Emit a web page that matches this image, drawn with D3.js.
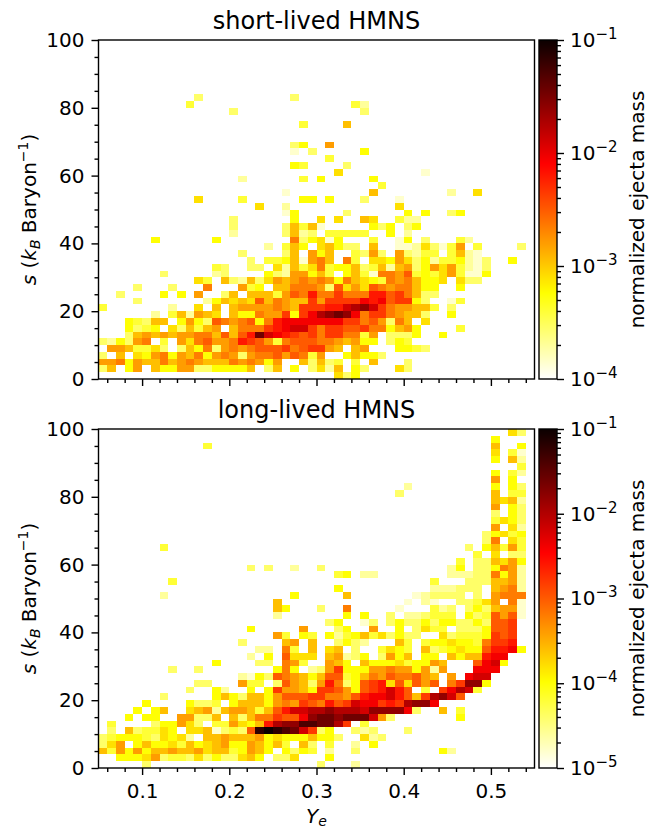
<!DOCTYPE html>
<html>
<head>
<meta charset="utf-8">
<script src="https://cdn.jsdelivr.net/npm/d3@7"></script>
<style>
  body { margin: 0; background: #fff; }
  text { font-family: "DejaVu Sans", sans-serif; fill: #000; }
</style>
</head>
<body>
<svg id="chart" width="662" height="827"></svg>
<script>
// Ye bins 0.05..0.55 by 0.01, s bins 0..100 by 2. One string per s bin, lowest s first.
// Each character is a colour level in base 36: . = empty, 1..k = 1/20..20/20 of the log colour range.
const shortLivedRows = [
  "..... ..... ..... ..... ..... ..635",
  "37.58 .7558 83355 557.3 7.5.3 627.5 3...6 3",
  "88958 77978 98777 98985 8..73 734.4 .7... 3",
  "3.7.6 58958 79589 83899 a8a94 8..57 553",
  ".8874 463.3 75938 989aa ab9ab b87.7 8...5 543",
  "32538 9.4.8 69a88 9cba8 49aaa 99878 55.35 4",
  "...37 87878 8997a 7ache dcbab 9bb99 48.33 35..5",
  "...53 45.63 7478. 7999b cdeeb 9bbaa b9957 85... .4",
  "...54 377.5 853a9 89a59 cdddd dddbb 9a839 7.6",
  "..... .2.47 2876. 75598 8b5bd fghgd 9bb98 773.. 5",
  "4.... ...2. .6.7. 78888 987bb bccef geb98 8774. 3",
  "....3 ..... ..257 676a7 9877b 8bbbb dcdab b53.. 14",
  "..3.. ..5.5 .8..3 7.777 48a9c 99b99 9ccab 9733",
  "....3 ...3. ..9.. .845. 77999 83a68 6a989 9755. .5",
  "..... ..... .64.7 32736 87898 98597 65498 97556 .633",
  "..... ..3.. ...23 ....5 32885 74.57 41998 a4546 84115",
  "..... ..... ...43 ..33. 62746 94557 34727 83586 84213",
  "..... ..... ..... ..3.4 45718 97.94 .6658 63524 45213 ..5",
  "..... ..... ..... .3... .37.8 57..4 383.8 3244. 4721",
  "..... ..... ..... ....2 .475. 67533 .7..1 12631 48.4. ...3",
  "..... .5... ...5. ..... ..935 615.. .4..1 5.3.. .42",
  "..... ..... ..... 2.... .3723 .4444 4..5. 2",
  "..... ..... ..... 3.... .3747 1.... .535. 35",
  "..... ..... ..... 3.... ..5.. 6.6.. 76..4 22",
  "..... ..... ..... ..... .15.. ...3. ..... 5.5.. 35",
  "..... ..... ..... ...6. .2... ..... ....6",
  "..... ..... .6... .4... ...55 .5... 3...1",
  "..... ..... ..... ..... .1... ..... .7... ..... 2..6",
  "..... ..... ..... ..... ..... ..... ..4",
  "..... ..... ..... .2... ...4. 5.... .5",
  "..... ..... ..... ..... ..... ..6.. ..... ..1",
  "..... ..... ..... ..... ..54. ...3",
  "..... ..... ..... ..... ..... .4",
  "..... ..... ..... ..... ..1.3 ..... 5",
  "..... ..... ..... ..... ..35. .8",
  "",
  "",
  "..... ..... ..... ..... ...4. ...7",
  "",
  "..... ..... ..... 3.... ..... ..... 3",
  "..... ..... 4.... ..... ..... ....4 2",
  "..... ..... .3... ..... ..3"
];

const longLivedRows = [
  "..... 3.... ..... ..... ..... 3...2",
  "..555 68344 36353 3675. 336.. .5",
  "74858 57787 78677 45875 .5354 .2..3 ..... ....5 2",
  "368.5 75564 75678 55875 74.73 .4..2 .5",
  "34555 43656 2.778 77785 65557 553.. 623",
  ".3.73 4465. 66713 43ajk jiheb 35..3 23... 3",
  ".4... .3558 63.44 8657c fggii hhfb. 4",
  "...5. 55..8 8337. 73799 baadg hhghh he83. ..... .5",
  "....5 .57.. 67827 88747 aceef fgfff egggg d3..7 .4",
  "..... 5.... 5334. 57775 898ba 9cabe ddbcb fggd",
  "..... ..3.. ...57 53775 8aaab b998a cddec a7bfg ea",
  "..... ..... 3..52 ..5.5 b8875 bba85 abcec a.4.b dfe4",
  "..... ..... .33.. .844. 3a873 8c935 abc6a 6a8a. 9bgg5",
  "..... ..... ..... .2153 a9875 7aa45 798a9 9a87. 8.dee",
  "..... ...3. .3... ..... 595.2 38b55 58898 85828 ...dd d",
  "..... ..... ...5. ...33 .984. .875. 75556 45587 ...ad e5",
  "..... ..... ..... ..2.5 .a666 .7823 5.385 7.55. 7577c dd",
  "..... ..... ..... ...22 .94.7 .67.3 ..465 4.734 5655a ccd5",
  "..... ..... ..... .3... .78.7 ..353 2...7 4.455 65549 bbc",
  "..... ..... ..... ..... 84.54 .5245 74635 33..6 34445 bab",
  "..... ..... ..... ..5.. ...8. ..35. .8..5 .3644 .3335 aab",
  "..... ..... ..... ..... ..... .35.. 13.35 33535 53353 aab",
  "..... ..... ..... ..... 2.... ...5. 5..3. 22344 4.534 a8a1",
  "..... ..... ..... ..... 75... 3..9. ....1 ...42 3.353 7881",
  "..... ..... ..... ..... 7.... ..... ..... 1.21. .3346 8.91",
  "..... ..2.. ..... ..... ..5.. ...7. ..... .1233 33.3. 8999",
  "..... ..... ..... ..... ..... ..5.. ..... ...22 2333. 7892",
  "..... ...4. ..... ..... ..... ..... ..... ...4. ..333 7782",
  "..... ..... ..... ..... ..... ..45. 22... ..... 22233 9582",
  "..... ..... ..... ..3.3 ..2.. 3.... ..... ..... 25.33 5982",
  "..... ..... ..... ..... ..... ..... ..... ..... .4.33 7685",
  "..... ..... ..... ..... ..... ..... ..... ..... ...4. 6.33",
  "..... ..4.. ..... ..... ..... ..... ..... ..... ..3.5 7484",
  "..... ..... ..... ..... ..... ..... ..... ..... ....3 9.64",
  "..... ..... ..... ..... ..... ..... ..... ..... ....3 5645",
  "..... ..... ..... ..... ..... ..... ..... ..... ..... 8.62",
  "..... ..... ..... ..... ..... ..... ..... ..... ..... 4653",
  "..... ..... ..... ..... ..... ..... ..... ..... ..... 3.53",
  "..... ..... ..... ..... ..... ..... ..... ..... ..... 8.53",
  "..... ..... ..... ..... ..... ..... ..... ..... ..... 7672",
  "..... ..... ..... ..... ..... ..... ....3 ..... ..... 7.44",
  "..... ..... ..... ..... ..... ..... ..... 2.... ..... 5.53",
  "..... ..... ..... ..... ..... ..... ..... ..... ..... 8.5",
  "..... ..... ..... ..... ..... ..... ..... ..... ..... 5.42",
  "..... ..... ..... ..... ..... ..... ..... ..... ..... ...4",
  "..... ..... ..... ..... ..... ..... ..... ..... ..... 5.72",
  "..... ..... ..... ..... ..... ..... ..... ..... ..... 6.41",
  "..... ..... ..4.. ..... ..... ..... ..... ..... ..... 7..5",
  "..... ..... ..... ..... ..... ..... ..... ..... ..... 5",
  "..... ..... ..... ..... ..... ..... ..... ..... ..... ..63"
];

const panelTitles = ["short-lived HMNS", "long-lived HMNS"];
const colorRanges = [[1e-4, 1e-1], [1e-5, 1e-1]];
const xMajorTicks = [0.1, 0.2, 0.3, 0.4, 0.5];
const xMinorTicks = [0.06, 0.08, 0.12, 0.14, 0.16, 0.18, 0.22, 0.24, 0.26, 0.28, 0.32, 0.34, 0.36, 0.38, 0.42, 0.44, 0.46, 0.48, 0.52, 0.54];
const yMajorTicks = [0, 20, 40, 60, 80, 100];
const yMinorTicks = [5, 10, 15, 25, 30, 35, 45, 50, 55, 65, 70, 75, 85, 90, 95];

const svg = d3.select("#chart");
const fontSize = 20;
const left = 98.5, right = 534.5;
const panelTops = [40, 429];
const panelHeight = 339;
const barLeft = 539, barRight = 557;
const binYe = 0.01, binS = 2;

// matplotlib hot_r
function hotR(t) {
  const s = 1 - t;
  const r = s < 0.365 ? 0.0416 + (1 - 0.0416) * s / 0.365 : 1;
  const g = s < 0.365 ? 0 : s < 0.746 ? (s - 0.365) / (0.746 - 0.365) : 1;
  const b = s < 0.746 ? 0 : (s - 0.746) / (1 - 0.746);
  return d3.rgb(r * 255, g * 255, b * 255).formatRgb();
}

const x = d3.scaleLinear().domain([0.05, 0.55]).range([left, right]);

function decodeRows(rows, range) {
  const lo = Math.log10(range[0]), hi = Math.log10(range[1]);
  const cells = [];
  rows.forEach((row, r) => {
    row.replace(/ /g, "").split("").forEach((ch, c) => {
      if (ch === ".") return;
      cells.push({
        ye: 0.05 + c * binYe,
        s: r * binS,
        mass: Math.pow(10, lo + (hi - lo) * parseInt(ch, 36) / 20)
      });
    });
  });
  return cells;
}

function styleAxis(g) {
  g.selectAll("path").remove();
  g.selectAll("line").attr("stroke", "#000").attr("stroke-width", 1.4);
  g.selectAll("text").attr("font-size", fontSize);
}

function powerLabel(sel, exp) {
  sel.text("10");
  sel.append("tspan").attr("dy", -8).attr("font-size", 15).text("\u2212" + exp);
}

function drawPanel(rows, i) {
  const top = panelTops[i], bottom = top + panelHeight;
  const y = d3.scaleLinear().domain([0, 100]).range([bottom, top]);
  const range = colorRanges[i];
  const color = d3.scaleSequentialLog(hotR).domain(range);
  const g = svg.append("g").attr("class", "panel");

  g.append("g").selectAll("rect")
    .data(decodeRows(rows, range))
    .join("rect")
    .attr("x", d => x(d.ye))
    .attr("y", d => y(d.s + binS))
    .attr("width", d => x(d.ye + binYe) - x(d.ye))
    .attr("height", d => y(d.s) - y(d.s + binS))
    .attr("fill", d => color(d.mass))
    .attr("shape-rendering", "crispEdges");

  g.append("rect")
    .attr("x", left).attr("y", top)
    .attr("width", right - left).attr("height", panelHeight)
    .attr("fill", "none").attr("stroke", "#000").attr("stroke-width", 1.4);

  // axes, major then minor
  const xAxis = g.append("g").attr("transform", `translate(0,${bottom})`)
    .call(d3.axisBottom(x).tickValues(xMajorTicks).tickSize(7).tickPadding(8.5)
      .tickFormat(i === 1 ? d3.format(".1f") : ""));
  styleAxis(xAxis);
  styleAxis(g.append("g").attr("transform", `translate(0,${bottom})`)
    .call(d3.axisBottom(x).tickValues(xMinorTicks).tickSize(4).tickFormat("")));
  const yAxis = g.append("g").attr("transform", `translate(${left},0)`)
    .call(d3.axisLeft(y).tickValues(yMajorTicks).tickSize(7).tickPadding(7));
  styleAxis(yAxis);
  styleAxis(g.append("g").attr("transform", `translate(${left},0)`)
    .call(d3.axisLeft(y).tickValues(yMinorTicks).tickSize(4).tickFormat("")));

  g.append("text")
    .attr("x", (left + right) / 2).attr("y", top - 11)
    .attr("text-anchor", "middle").attr("font-size", 24)
    .text(panelTitles[i]);

  const yLabel = g.append("text")
    .attr("transform", `translate(36,${(top + bottom) / 2}) rotate(-90)`)
    .attr("text-anchor", "middle").attr("font-size", fontSize);
  yLabel.append("tspan").attr("font-style", "italic").text("s");
  yLabel.append("tspan").text(" (");
  yLabel.append("tspan").attr("font-style", "italic").text("k");
  yLabel.append("tspan").attr("font-style", "italic").attr("font-size", 14).attr("dy", 4).text("B");
  yLabel.append("tspan").attr("dy", -4).text(" Baryon");
  yLabel.append("tspan").attr("font-size", 14).attr("dy", -8).text("\u22121");
  yLabel.append("tspan").attr("dy", 8).text(")");

  // colour bar
  const bar = d3.scaleLog().domain(range).range([bottom, top]);
  const barSteps = d3.range(panelHeight);
  g.append("g").selectAll("rect")
    .data(barSteps)
    .join("rect")
    .attr("x", barLeft).attr("y", d => top + d)
    .attr("width", barRight - barLeft).attr("height", 1.5)
    .attr("fill", d => color(bar.invert(top + d + 0.5)))
    .attr("shape-rendering", "crispEdges");
  g.append("rect")
    .attr("x", barLeft).attr("y", top)
    .attr("width", barRight - barLeft).attr("height", panelHeight)
    .attr("fill", "none").attr("stroke", "#000").attr("stroke-width", 1.4);

  const decades = d3.range(Math.log10(range[0]), Math.log10(range[1]) + 0.5).map(e => Math.round(e));
  const barAxis = g.append("g").attr("transform", `translate(${barRight},0)`)
    .call(d3.axisRight(bar).tickValues(decades.map(e => Math.pow(10, e))).tickSize(7).tickPadding(6));
  styleAxis(barAxis);
  barAxis.selectAll("text").each(function(d, k) {
    powerLabel(d3.select(this), -decades[k]);
  });
  const barMinor = [];
  decades.slice(0, -1).forEach(e => d3.range(2, 10).forEach(m => barMinor.push(m * Math.pow(10, e))));
  styleAxis(g.append("g").attr("transform", `translate(${barRight},0)`)
    .call(d3.axisRight(bar).tickValues(barMinor).tickSize(4).tickFormat("")));

  g.append("text")
    .attr("transform", `translate(644,${(top + bottom) / 2}) rotate(-90)`)
    .attr("text-anchor", "middle").attr("font-size", fontSize)
    .text("normalized ejecta mass");
}

[shortLivedRows, longLivedRows].forEach(drawPanel);

const xLabel = svg.append("text")
  .attr("x", (left + right) / 2).attr("y", 823)
  .attr("text-anchor", "middle").attr("font-size", fontSize);
xLabel.append("tspan").attr("font-style", "italic").text("Y");
xLabel.append("tspan").attr("font-style", "italic").attr("font-size", 14).attr("dy", 3).text("e");
</script>
</body>
</html>
